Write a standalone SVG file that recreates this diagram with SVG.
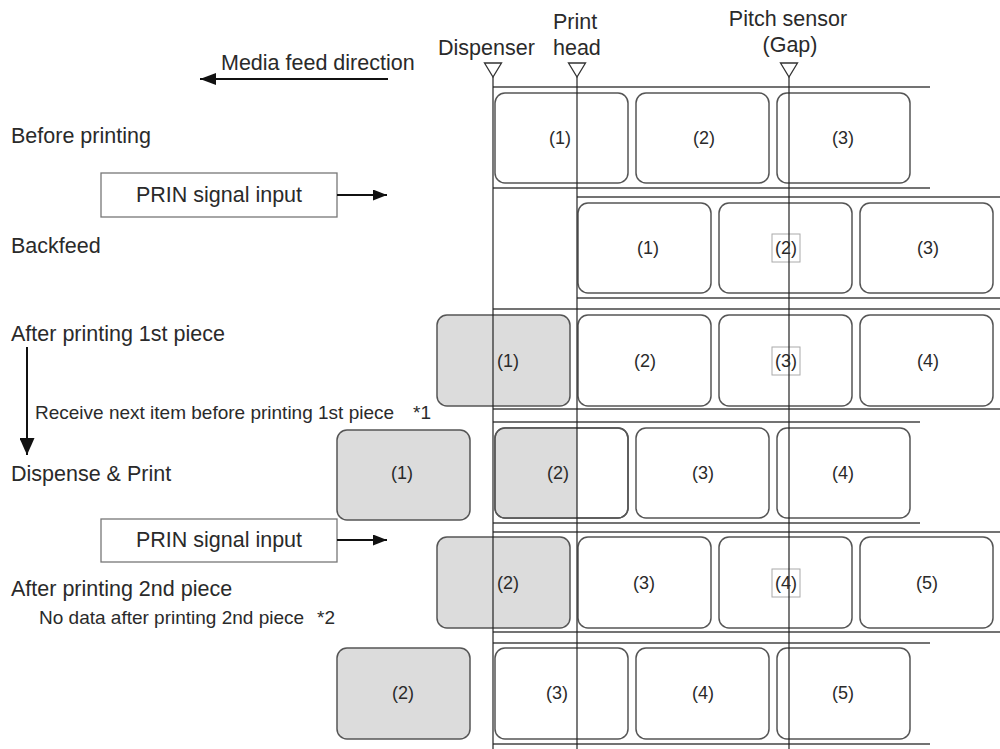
<svg xmlns="http://www.w3.org/2000/svg" width="1000" height="749" viewBox="0 0 1000 749">
<style>
.t{font-family:"Liberation Sans",Arial,sans-serif;fill:#2a2a2a}
.lbl{font-size:21.5px}
.note{font-size:19px}
.num{font-size:18px;text-anchor:middle}
.mid{text-anchor:middle}
.media{stroke:#444;stroke-width:1.5}
.lab{fill:#fff;stroke:#555;stroke-width:1.5}
.g{fill:#dcdcdc}
.gfill{fill:#dcdcdc;stroke:none}
.guide{stroke:#222;stroke-width:1.2}
.tri{fill:#fff;stroke:#333;stroke-width:1.3}
.tag{fill:#fff;stroke:#aaa;stroke-width:1}
.arr{stroke:#111;stroke-width:2;fill:none}
.sig{fill:#fff;stroke:#777;stroke-width:1.3}
</style>
<defs>
<marker id="ah" markerWidth="16" markerHeight="12" refX="16" refY="6" orient="auto" markerUnits="userSpaceOnUse"><path d="M0,0 L16,6 L0,12 Z" fill="#111"/></marker>
<marker id="ah2" markerWidth="14" markerHeight="11" refX="14" refY="5.5" orient="auto" markerUnits="userSpaceOnUse"><path d="M0,0 L14,5.5 L0,11 Z" fill="#111"/></marker>
<marker id="ah3" markerWidth="17" markerHeight="15" refX="17" refY="7.5" orient="auto" markerUnits="userSpaceOnUse"><path d="M0,0 L17,7.5 L0,15 Z" fill="#111"/></marker>
</defs>
<rect width="1000" height="749" fill="#fff"/>

<g id="header">
<text class="t lbl" x="221" y="70">Media feed direction</text>
<text class="t lbl" x="438" y="55">Dispenser</text>
<text class="t lbl" x="553" y="29">Print</text>
<text class="t lbl" x="553" y="55">head</text>
<text class="t lbl mid" x="788" y="26">Pitch sensor</text>
<text class="t lbl mid" x="790" y="52">(Gap)</text>
</g>

<g id="stage-labels">
<text class="t lbl" x="11" y="143">Before printing</text>
<text class="t lbl" x="11" y="253">Backfeed</text>
<text class="t lbl" x="11" y="341">After printing 1st piece</text>
<text class="t note" x="35" y="419">Receive next item before printing 1st piece</text>
<text class="t note" x="413" y="419">*1</text>
<text class="t lbl" x="11" y="481">Dispense &amp; Print</text>
<text class="t lbl" x="11" y="596">After printing 2nd piece</text>
<text class="t note" x="39" y="624">No data after printing 2nd piece</text>
<text class="t note" x="317" y="624">*2</text>
</g>

<g id="prin1">
<rect class="sig" x="101" y="173" width="236" height="44"/>
<text class="t lbl mid" x="219" y="202">PRIN signal input</text>
</g>
<g id="prin2">
<rect class="sig" x="101" y="519" width="236" height="43"/>
<text class="t lbl mid" x="219" y="547">PRIN signal input</text>
</g>

<g id="row1">
<line class="media" x1="493" y1="87" x2="930" y2="87"/>
<line class="media" x1="493" y1="188" x2="930" y2="188"/>
<rect class="lab" x="495" y="93" width="133" height="90" rx="10"/>
<rect class="lab" x="636" y="93" width="133" height="90" rx="10"/>
<rect class="lab" x="777" y="93" width="133" height="90" rx="10"/>
</g>

<g id="row2">
<line class="media" x1="577" y1="197" x2="1000" y2="197"/>
<line class="media" x1="577" y1="298" x2="1000" y2="298"/>
<rect class="lab" x="578" y="203" width="133" height="90" rx="10"/>
<rect class="lab" x="719" y="203" width="133" height="90" rx="10"/>
<rect class="lab" x="860" y="203" width="133" height="90" rx="10"/>
<rect class="tag" x="772" y="234" width="28" height="28"/>
</g>

<g id="row3">
<line class="media" x1="493" y1="309" x2="1000" y2="309"/>
<line class="media" x1="493" y1="409" x2="1000" y2="409"/>
<rect class="lab g" x="437" y="315" width="133" height="91" rx="10"/>
<rect class="lab" x="578" y="315" width="133" height="91" rx="10"/>
<rect class="lab" x="719" y="315" width="133" height="91" rx="10"/>
<rect class="lab" x="860" y="315" width="133" height="91" rx="10"/>
<rect class="tag" x="772" y="347" width="28" height="28"/>
</g>

<g id="row4">
<line class="media" x1="493" y1="422" x2="920" y2="422"/>
<line class="media" x1="493" y1="523" x2="920" y2="523"/>
<rect class="lab g" x="337" y="430" width="133" height="90" rx="10"/>
<rect class="lab" x="495" y="428" width="133" height="90" rx="10"/>
<path class="gfill" d="M577,428.8 H505 A9.2,9.2 0 0 0 495.8,438 V508 A9.2,9.2 0 0 0 505,517.2 H577 Z"/>
<rect x="495" y="428" width="133" height="90" rx="10" fill="none" stroke="#555" stroke-width="1.5"/>
<rect class="lab" x="636" y="428" width="133" height="90" rx="10"/>
<rect class="lab" x="777" y="428" width="133" height="90" rx="10"/>
</g>

<g id="row5">
<line class="media" x1="493" y1="532" x2="1000" y2="532"/>
<line class="media" x1="493" y1="632" x2="1000" y2="632"/>
<rect class="lab g" x="437" y="537" width="133" height="91" rx="10"/>
<rect class="lab" x="578" y="537" width="133" height="91" rx="10"/>
<rect class="lab" x="719" y="537" width="133" height="91" rx="10"/>
<rect class="lab" x="860" y="537" width="133" height="91" rx="10"/>
<rect class="tag" x="772" y="569" width="28" height="28"/>
</g>

<g id="row6">
<line class="media" x1="493" y1="643" x2="930" y2="643"/>
<line class="media" x1="493" y1="744" x2="930" y2="744"/>
<rect class="lab g" x="337" y="648" width="133" height="91" rx="10"/>
<rect class="lab" x="495" y="648" width="133" height="91" rx="10"/>
<rect class="lab" x="636" y="648" width="133" height="91" rx="10"/>
<rect class="lab" x="777" y="648" width="133" height="91" rx="10"/>
</g>

<g id="guides">
<line class="guide" x1="493" y1="77" x2="493" y2="749"/>
<line class="guide" x1="577" y1="77" x2="577" y2="749"/>
<line class="guide" x1="789" y1="77" x2="789" y2="749"/>
<polygon class="tri" points="484.5,63 501.5,63 493,77"/>
<polygon class="tri" points="568.5,63 585.5,63 577,77"/>
<polygon class="tri" points="780.5,63 797.5,63 789,77"/>
</g>

<g id="numbers">
<text class="t num" x="560" y="144">(1)</text>
<text class="t num" x="704" y="144">(2)</text>
<text class="t num" x="843" y="144">(3)</text>
<text class="t num" x="648" y="254">(1)</text>
<text class="t num" x="786" y="254">(2)</text>
<text class="t num" x="928" y="254">(3)</text>
<text class="t num" x="508" y="367">(1)</text>
<text class="t num" x="645" y="367">(2)</text>
<text class="t num" x="786" y="367">(3)</text>
<text class="t num" x="928" y="367">(4)</text>
<text class="t num" x="402" y="479">(1)</text>
<text class="t num" x="558" y="479">(2)</text>
<text class="t num" x="703" y="479">(3)</text>
<text class="t num" x="843" y="479">(4)</text>
<text class="t num" x="508" y="589">(2)</text>
<text class="t num" x="644" y="589">(3)</text>
<text class="t num" x="786" y="589">(4)</text>
<text class="t num" x="927" y="589">(5)</text>
<text class="t num" x="403" y="699">(2)</text>
<text class="t num" x="557" y="699">(3)</text>
<text class="t num" x="703" y="699">(4)</text>
<text class="t num" x="843" y="699">(5)</text>
</g>

<g id="connectors">
<line class="arr" x1="388" y1="79" x2="200" y2="79" marker-end="url(#ah)"/>
<line class="arr" x1="337" y1="195" x2="387" y2="195" marker-end="url(#ah2)"/>
<line class="arr" x1="337" y1="540" x2="387" y2="540" marker-end="url(#ah2)"/>
<line class="arr" x1="27" y1="347" x2="27" y2="455" marker-end="url(#ah3)"/>
</g>
</svg>
